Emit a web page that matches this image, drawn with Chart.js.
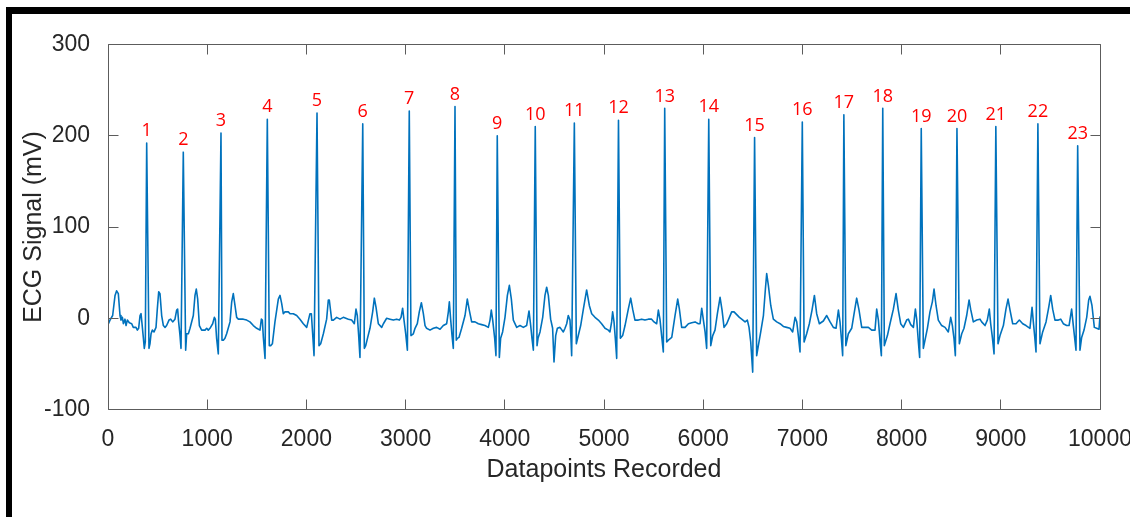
<!DOCTYPE html>
<html>
<head>
<meta charset="utf-8">
<title>ECG Signal</title>
<script src="https://cdn.jsdelivr.net/npm/chart.js@4.4.1/dist/chart.umd.min.js"></script>
<style>
  html, body { margin: 0; padding: 0; background: #fff; }
  body { width: 1130px; height: 517px; overflow: hidden; position: relative; }
  .frame {
    position: absolute; left: 6px; top: 7px; right: 0; bottom: 0;
    border-top: 7px solid #000; border-left: 6px solid #000;
  }
  #ecgChart { position: absolute; left: 0; top: 0; }
</style>
</head>
<body>
<div class="frame"></div>
<canvas id="ecgChart" width="1130" height="517"></canvas>
<script>
// R peaks: sample index and amplitude (mV), numbered 1..23
const beatLabels = ['1','2','3','4','5','6','7','8','9','10','11','12','13','14','15','16','17','18','19','20','21','22','23'];
const rPeakX = [390, 759, 1139, 1606, 2107, 2568, 3037, 3498, 3924, 4307, 4701, 5146,
                5612, 6056, 6518, 6999, 7418, 7810, 8198, 8558, 8950, 9374, 9775];
const rPeakY = [192, 182, 203, 218, 225, 213, 227, 232, 200, 210, 214, 217,
                230, 218, 198, 215, 223, 230, 208, 208, 210, 213, 189];

// rest of the trace (P, Q/S troughs, T waves, baseline) as [sample, mV]
const ecgTrace = [
  [0,-7],[20,-2],[47,3],[71,25],[87,30],[104,27],[121,3],[131,-2],[145,1],[155,-6],[171,-1],[182,-8],
  [195,-2],[215,-5],[239,-6],[255,-10],[282,-10],[296,-13],[309,-11],[323,3],[333,5],[343,-6],[356,-21],
  [366,-33],[376,-26],
  [413,-33],[423,-28],[434,-17],[447,-13],[464,-15],[484,-10],[497,10],[511,29],[524,27],[541,3],[558,-8],
  [575,-10],[591,-8],[615,-2],[632,-1],[652,-4],[675,-1],[692,9],[702,10],[712,-4],[726,-19],[736,-33],
  [783,-35],[793,-17],[810,-17],[827,-11],[860,3],[877,25],[890,32],[904,21],[921,-8],[944,-13],[978,-13],
  [995,-11],[1011,-13],[1028,-11],[1055,-6],[1072,1],[1082,-1],[1095,-22],[1112,-39],
  [1149,-24],[1163,-24],[1179,-22],[1196,-17],[1230,-4],[1247,18],[1263,27],[1280,14],[1297,1],[1314,-1],
  [1331,-1],[1364,-1],[1398,-2],[1431,-4],[1465,-8],[1499,-11],[1532,-13],[1546,-1],[1556,-2],[1566,-21],
  [1583,-44],
  [1626,-30],[1640,-30],[1657,-28],[1683,-4],[1717,21],[1734,25],[1751,16],[1767,5],[1784,7],[1818,7],
  [1835,5],[1868,5],[1902,3],[1935,-1],[1969,-6],[2003,-10],[2036,5],[2050,5],[2063,-17],[2077,-41],
  [2127,-30],[2144,-28],[2171,-17],[2204,-1],[2221,20],[2231,20],[2255,-2],[2272,-2],[2305,1],[2339,-1],
  [2372,1],[2423,-1],[2456,-2],[2483,-6],[2500,10],[2513,3],[2527,-19],[2540,-43],
  [2584,-33],[2598,-30],[2618,-21],[2641,-11],[2668,7],[2685,22],[2702,12],[2725,-6],[2759,-10],[2776,-6],
  [2809,0],[2843,-1],[2876,-2],[2910,-1],[2937,-2],[2954,1],[2970,11],[2984,-2],[3001,-17],[3018,-35],
  [3054,-19],[3078,-17],[3095,-11],[3118,-6],[3138,7],[3159,17],[3179,5],[3196,-8],[3212,-11],[3246,-13],
  [3280,-11],[3313,-10],[3347,-12],[3380,-8],[3414,-6],[3431,7],[3441,18],[3454,-1],[3468,-19],[3481,-33],
  [3511,-24],[3522,-22],[3538,-21],[3565,-11],[3599,3],[3622,21],[3642,9],[3666,-4],[3700,-4],[3733,-6],
  [3767,-7],[3800,-8],[3834,-10],[3851,-2],[3864,9],[3878,-2],[3898,-22],[3911,-41],
  [3945,-43],[3958,-22],[3978,-15],[4002,1],[4026,25],[4046,36],[4066,21],[4086,-2],[4120,-10],[4153,-8],
  [4187,-10],[4220,-8],[4244,8],[4261,-8],[4274,-22],[4288,-35],
  [4325,-30],[4335,-22],[4355,-15],[4382,1],[4405,25],[4422,34],[4439,25],[4462,-1],[4482,-11],[4496,-48],
  [4513,-19],[4530,-11],[4556,-10],[4590,-15],[4607,-11],[4624,-6],[4640,3],[4657,-2],[4667,-22],[4674,-41],
  [4721,-28],[4745,-17],[4765,-8],[4792,10],[4825,31],[4852,14],[4876,5],[4909,1],[4943,-2],[4976,-6],
  [5010,-11],[5044,-13],[5060,-15],[5077,-4],[5087,7],[5101,-4],[5114,-22],[5128,-44],
  [5165,-22],[5188,-19],[5212,-8],[5245,10],[5269,22],[5289,10],[5312,-2],[5346,-2],[5380,-1],[5413,-2],
  [5447,-1],[5480,-1],[5504,-4],[5531,-6],[5548,9],[5564,-1],[5581,-19],[5598,-37],
  [5632,-26],[5649,-24],[5683,-21],[5716,3],[5743,21],[5760,10],[5783,-10],[5817,-10],[5851,-6],[5884,-5],
  [5918,-4],[5951,-6],[5968,-6],[5985,11],[6002,-2],[6019,-15],[6035,-33],
  [6076,-30],[6096,-19],[6119,-13],[6143,5],[6170,23],[6190,9],[6210,-10],[6237,-6],[6264,1],[6287,7],
  [6311,7],[6338,4],[6365,1],[6388,-1],[6422,-4],[6445,-2],[6462,-10],[6479,-26],[6499,-59],
  [6539,-41],[6556,-30],[6580,-15],[6607,3],[6627,32],[6640,49],[6657,36],[6681,14],[6707,-1],[6741,-4],
  [6775,-6],[6808,-9],[6842,-10],[6875,-11],[6902,-15],[6926,1],[6943,-4],[6959,-19],[6976,-37],
  [7017,-26],[7043,-17],[7070,-6],[7097,9],[7121,25],[7144,5],[7171,-6],[7211,-3],[7245,3],[7279,-4],
  [7312,-10],[7339,-11],[7363,9],[7379,-4],[7393,-22],[7406,-41],
  [7438,-30],[7463,-17],[7497,-11],[7521,5],[7547,22],[7571,9],[7598,-10],[7631,-10],[7665,-10],[7699,-13],
  [7732,-13],[7749,10],[7766,-2],[7783,-26],[7796,-41],
  [7826,-30],[7857,-19],[7883,-6],[7917,10],[7944,27],[7967,9],[7991,-6],[8018,-10],[8051,-2],[8068,-1],
  [8092,-7],[8119,-10],[8139,10],[8152,-1],[8169,-26],[8182,-43],
  [8219,-33],[8236,-24],[8260,-11],[8286,7],[8310,18],[8327,32],[8347,14],[8370,-2],[8404,-8],[8438,-10],
  [8471,-15],[8495,1],[8512,-8],[8528,-22],[8542,-41],
  [8582,-28],[8606,-17],[8629,-11],[8656,3],[8680,20],[8696,10],[8723,-4],[8757,-2],[8790,-1],[8807,-4],
  [8841,-8],[8864,-2],[8884,10],[8898,-6],[8915,-21],[8932,-39],
  [8972,-28],[8992,-19],[9026,-8],[9052,10],[9073,21],[9093,9],[9120,-6],[9153,-6],[9187,-2],[9221,-6],
  [9254,-8],[9294,-11],[9315,12],[9328,-4],[9341,-19],[9355,-37],
  [9395,-28],[9422,-15],[9456,-4],[9483,12],[9503,25],[9523,10],[9546,-2],[9580,-2],[9604,-1],[9630,-6],
  [9664,-8],[9688,-8],[9714,10],[9731,-8],[9745,-22],[9758,-35],
  [9798,-35],[9815,-21],[9839,-13],[9866,1],[9886,20],[9899,24],[9919,14],[9943,-10],[9966,-11],[9990,-12],
  [10000,2]
];

const xTicks = [0, 1000, 2000, 3000, 4000, 5000, 6000, 7000, 8000, 9000, 10000];
const yTicks = [-100, 0, 100, 200, 300];

// merge peaks into the trace, ordered by sample index
const points = ecgTrace.map(p => ({ x: p[0], y: p[1] }))
  .concat(rPeakX.map((x, i) => ({ x: x, y: rPeakY[i] })))
  .sort((a, b) => a.x - b.x);

const textColor = '#262626';
const axisColor = '#5c5c5c';
const axisFont = '"Liberation Sans", Arial, sans-serif';

// MATLAB-style box with inward ticks on all four sides
const axesBox = {
  id: 'axesBox',
  afterDraw(chart) {
    const { ctx, chartArea: a, scales: { x, y } } = chart;
    const L = Math.floor(a.left) + 0.5, R = Math.floor(a.right) + 0.5;
    const T = Math.floor(a.top) + 0.5, B = Math.floor(a.bottom) + 0.5;
    const len = 10;
    ctx.save();
    ctx.strokeStyle = axisColor;
    ctx.lineWidth = 1;
    ctx.beginPath();
    ctx.rect(L, T, R - L, B - T);
    xTicks.forEach(v => {
      const px = Math.floor(x.getPixelForValue(v)) + 0.5;
      ctx.moveTo(px, B); ctx.lineTo(px, B - len);
      ctx.moveTo(px, T); ctx.lineTo(px, T + len);
    });
    yTicks.forEach(v => {
      const py = Math.floor(y.getPixelForValue(v)) + 0.5;
      ctx.moveTo(L, py); ctx.lineTo(L + len, py);
      ctx.moveTo(R, py); ctx.lineTo(R - len, py);
    });
    ctx.stroke();
    ctx.restore();
  }
};

// red beat numbers above each R peak
const beatNumbers = {
  id: 'beatNumbers',
  afterDraw(chart) {
    const { ctx, scales: { x, y } } = chart;
    ctx.save();
    ctx.fillStyle = '#ff0000';
    ctx.font = '18px "Open Sans"';
    ctx.textAlign = 'center';
    ctx.textBaseline = 'middle';
    beatLabels.forEach((lbl, i) => {
      ctx.fillText(lbl, x.getPixelForValue(rPeakX[i]), y.getPixelForValue(rPeakY[i]) - 12);
    });
    ctx.restore();
  }
};

new Chart(document.getElementById('ecgChart'), {
  type: 'line',
  data: {
    datasets: [{
      data: points,
      borderColor: '#0072BD',
      borderWidth: 1.6,
      borderJoinStyle: 'round',
      pointRadius: 0,
      tension: 0,
      fill: false
    }]
  },
  options: {
    responsive: false,
    animation: false,
    devicePixelRatio: 1,
    parsing: false,
    layout: { padding: { left: 0, top: 44.5, right: 30, bottom: 0 } },
    plugins: { legend: { display: false }, tooltip: { enabled: false } },
    scales: {
      x: {
        type: 'linear',
        min: 0, max: 10000,
        grid: { display: false },
        border: { display: false },
        afterBuildTicks: s => { s.ticks = xTicks.map(v => ({ value: v })); },
        ticks: {
          maxRotation: 0, autoSkip: false, padding: 8,
          color: textColor,
          font: { family: axisFont, size: 23 },
          callback: v => String(v)
        },
        title: {
          display: true, text: 'Datapoints Recorded', color: textColor,
          font: { family: axisFont, size: 25 },
          padding: { top: 0, bottom: 32 }
        },
        afterFit: s => { s.height = 107.5; s.paddingLeft = 0; s.paddingRight = 0; }
      },
      y: {
        type: 'linear',
        min: -100, max: 300,
        grid: { display: false },
        border: { display: false },
        afterBuildTicks: s => { s.ticks = yTicks.map(v => ({ value: v })); },
        ticks: {
          padding: 10,
          color: textColor,
          font: { family: axisFont, size: 23 },
          callback: v => String(v)
        },
        title: {
          display: true, text: 'ECG Signal (mV)', color: textColor,
          font: { family: axisFont, size: 25 },
          padding: { top: 19, bottom: 0 }
        },
        afterFit: s => { s.width = 108; s.paddingTop = 0; s.paddingBottom = 0; }
      }
    }
  },
  plugins: [axesBox, beatNumbers]
});
</script>
</body>
</html>
